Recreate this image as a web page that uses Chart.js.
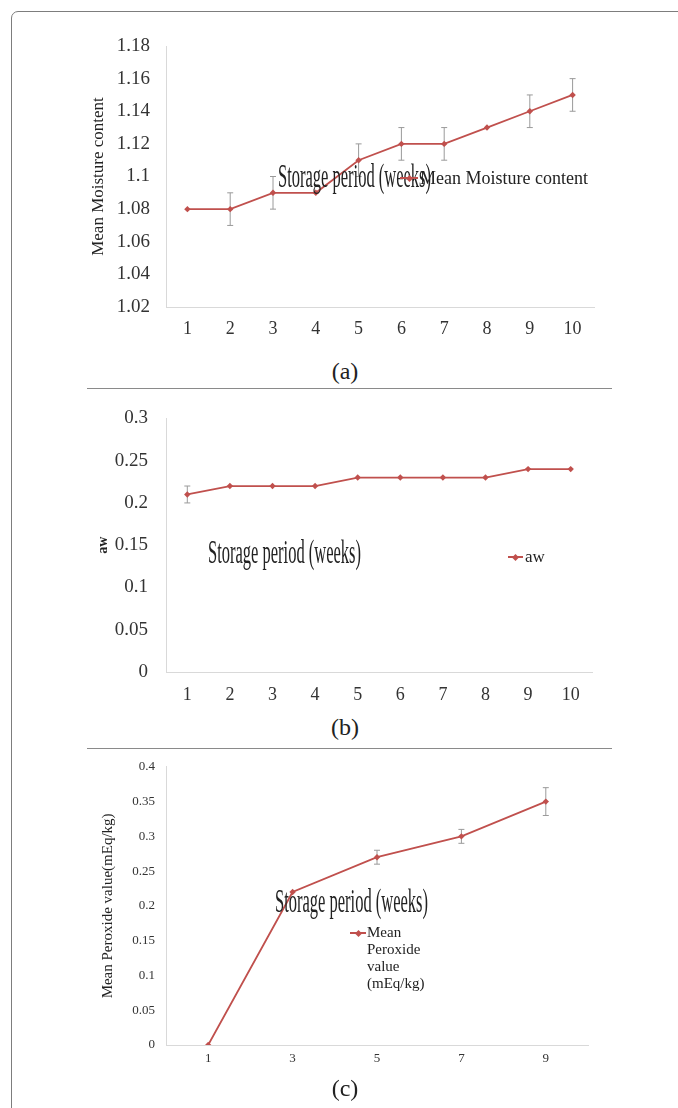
<!DOCTYPE html>
<html>
<head>
<meta charset="utf-8">
<script src="https://cdn.jsdelivr.net/npm/chart.js@4/dist/chart.umd.min.js"></script>
<style>
html,body{margin:0;padding:0;background:#fff;}
body{width:678px;height:1108px;position:relative;overflow:hidden;font-family:'Liberation Serif',serif;color:#222;}
.frame{position:absolute;left:11px;top:11px;width:720px;height:1200px;border:1.5px solid #7d7d7d;border-radius:7px;}
.sep{position:absolute;left:87px;width:525px;height:0;border-top:1.5px solid #8a8a8a;}
.panel{position:absolute;left:0;width:678px;}
.xt{position:absolute;white-space:nowrap;transform-origin:0 50%;line-height:1;font-size:33px;transform:scaleX(0.5);color:#222;}
.lab{position:absolute;width:60px;text-align:center;font-size:24px;line-height:1;}
.leg{position:absolute;white-space:nowrap;color:#222;}
.mk{position:absolute;height:0;border-top:2px solid #c0504d;}
.mk i{position:absolute;left:50%;top:-3.5px;width:5px;height:5px;margin-left:-2.5px;background:#c0504d;transform:rotate(45deg);}
</style>
</head>
<body>
<div class="frame"></div>

<div class="panel" style="top:0;height:345px"><canvas id="chartA"></canvas></div>
<div class="panel" style="top:389px;height:320px"><canvas id="chartB"></canvas></div>
<div class="panel" style="top:748px;height:330px"><canvas id="chartC"></canvas></div>

<div class="xt" style="left:278px;top:160px">Storage period (weeks)</div>
<div class="xt" style="left:208px;top:536px">Storage period (weeks)</div>
<div class="xt" style="left:275px;top:885px">Storage period (weeks)</div>

<div class="mk" style="left:400px;top:177px;width:18px"><i></i></div>
<div class="leg" id="legA" style="left:420px;top:169px;font-size:18px;line-height:1"></div>
<div class="mk" style="left:508px;top:556px;width:15px"><i></i></div>
<div class="leg" id="legB" style="left:525px;top:548px;font-size:17px;line-height:1"></div>
<div class="mk" style="left:350px;top:932px;width:16px"><i></i></div>
<div class="leg" id="legC" style="left:367px;top:924px;font-size:15px;line-height:17px;white-space:normal;width:70px"></div>

<div class="lab" style="left:315px;top:359px">(a)</div>
<div class="sep" style="top:388px"></div>
<div class="lab" style="left:315px;top:715px">(b)</div>
<div class="sep" style="top:748px"></div>
<div class="lab" style="left:315px;top:1076px">(c)</div>

<script>
var weeks = ['1','2','3','4','5','6','7','8','9','10'];
var moisture = [1.08, 1.08, 1.09, 1.09, 1.11, 1.12, 1.12, 1.13, 1.14, 1.15];
var moistureErr = [0, 0.01, 0.01, 0, 0.01, 0.01, 0.01, 0, 0.01, 0.01];
var aw = [0.21, 0.22, 0.22, 0.22, 0.23, 0.23, 0.23, 0.23, 0.24, 0.24];
var awErr = [0.01, 0, 0, 0, 0, 0, 0, 0, 0, 0];
var weeksC = ['1','3','5','7','9'];
var peroxide = [0, 0.22, 0.27, 0.30, 0.35];
var peroxideErr = [0, 0, 0.01, 0.01, 0.02];

var nameA = 'Mean Moisture content';
var nameB = 'aw';
var nameC = 'Mean Peroxide value (mEq/kg)';

var red = '#c0504d';
var serif = 'Liberation Serif';

document.getElementById('legA').textContent = nameA;
document.getElementById('legB').textContent = nameB;
document.getElementById('legC').textContent = nameC;

// error bars drawn behind the line
var errorBars = {
  id: 'errorBars',
  beforeDatasetsDraw: function(chart) {
    var ctx = chart.ctx;
    var y = chart.scales.y;
    chart.data.datasets.forEach(function(ds, i) {
      var meta = chart.getDatasetMeta(i);
      meta.data.forEach(function(pt, j) {
        var e = ds.errors[j];
        if (!e) return;
        var top = y.getPixelForValue(ds.data[j] + e);
        var bot = y.getPixelForValue(ds.data[j] - e);
        ctx.save();
        ctx.strokeStyle = '#9a9a9a';
        ctx.lineWidth = 1;
        ctx.beginPath();
        ctx.moveTo(pt.x, top); ctx.lineTo(pt.x, bot);
        ctx.moveTo(pt.x - 3, top); ctx.lineTo(pt.x + 3, top);
        ctx.moveTo(pt.x - 3, bot); ctx.lineTo(pt.x + 3, bot);
        ctx.stroke();
        ctx.restore();
      });
    });
  }
};

function makeChart(id, labels, values, errors, name, o) {
  return new Chart(document.getElementById(id), {
    type: 'line',
    data: {
      labels: labels,
      datasets: [{
        label: name,
        data: values,
        errors: errors,
        borderColor: red,
        backgroundColor: red,
        borderWidth: 1.8,
        pointStyle: 'rectRot',
        pointRadius: 3.2,
        pointBorderWidth: 0,
        tension: 0
      }]
    },
    plugins: [errorBars],
    options: {
      animation: false,
      responsive: true,
      maintainAspectRatio: false,
      layout: { padding: o.pad },
      plugins: { legend: { display: false }, tooltip: { enabled: false } },
      scales: {
        x: {
          offset: true,
          grid: { display: false, drawTicks: false },
          border: { color: '#d9d9d9' },
          ticks: { padding: o.xPad, color: '#333', maxRotation: 0, autoSkip: false, font: { family: serif, size: o.tickSize } },
          afterFit: function(s) { s.height = o.xH; }
        },
        y: {
          min: o.min,
          max: o.max,
          grid: { display: false, drawTicks: false },
          border: { color: '#d9d9d9' },
          ticks: {
            stepSize: o.step,
            padding: o.yPad,
            color: '#333',
            font: { family: serif, size: o.yTickSize },
            callback: function(v) { return String(+v.toFixed(2)); }
          },
          title: { display: true, text: o.title, color: '#222', font: { family: serif, size: o.titleSize, weight: o.titleWeight } },
          afterFit: function(s) { s.width = o.yW; }
        }
      }
    }
  });
}

makeChart('chartA', weeks, moisture, moistureErr, nameA, {
  pad: { left: 84, top: 46, right: 84, bottom: 0 },
  min: 1.02, max: 1.18, step: 0.02,
  tickSize: 18, yTickSize: 19, xPad: 11, yPad: 16, xH: 38, yW: 82,
  title: 'Mean Moisture content', titleSize: 17, titleWeight: 'normal'
});

makeChart('chartB', weeks, aw, awErr, nameB, {
  pad: { left: 91, top: 19, right: 86, bottom: 0 },
  min: 0, max: 0.3, step: 0.05,
  tickSize: 18, yTickSize: 19, xPad: 12, yPad: 18, xH: 37, yW: 75,
  title: 'aw', titleSize: 14, titleWeight: 'bold'
});

makeChart('chartC', weeksC, peroxide, peroxideErr, nameC, {
  pad: { left: 95, top: 15, right: 90, bottom: 0 },
  min: 0, max: 0.4, step: 0.05,
  tickSize: 13, yTickSize: 13, xPad: 6, yPad: 11, xH: 33, yW: 71,
  title: 'Mean Peroxide value(mEq/kg)', titleSize: 15, titleWeight: 'normal'
});
</script>
</body>
</html>
